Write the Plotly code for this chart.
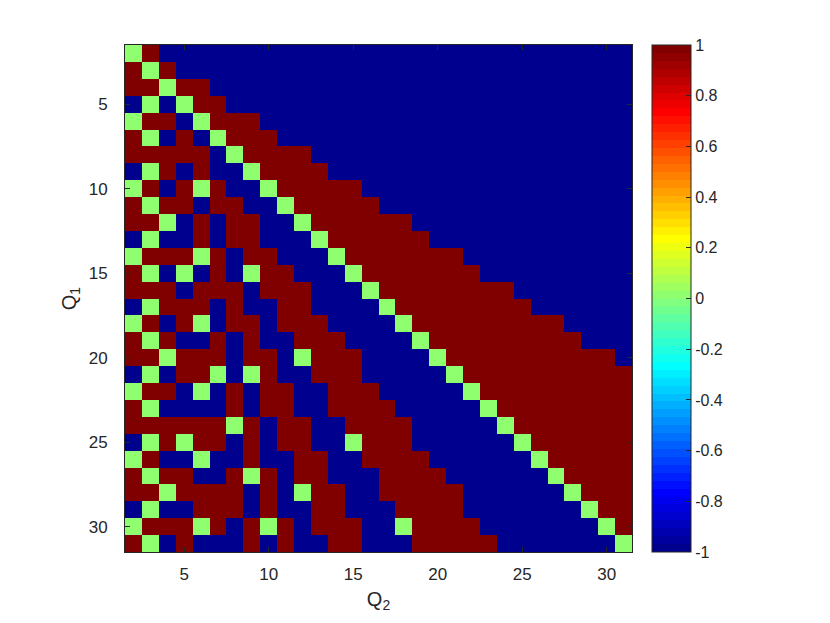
import plotly.graph_objects as go

# =============================================================================
# DATA  (rows Q1 = 2..31, columns Q2 = 2..31; "+" = 1, "-" = -1, "0" = 0)
# =============================================================================

Q1 = list(range(2, 32))
Q2 = list(range(2, 32))

ROWS = [
    "0+--- ----- ----- ----- ----- -----",  # 2
    "+0+-- ----- ----- ----- ----- -----",  # 3
    "++0++ ----- ----- ----- ----- -----",  # 4
    "-0-0+ +---- ----- ----- ----- -----",  # 5
    "0++-0 +++-- ----- ----- ----- -----",  # 6
    "+0-+- 0+++- ----- ----- ----- -----",  # 7
    "+++++ -0+++ +---- ----- ----- -----",  # 8
    "-0+-+ --0++ ++--- ----- ----- -----",  # 9
    "0+-+0 +--0+ ++++- ----- ----- -----",  # 10
    "+0++- ++--0 +++++ ----- ----- -----",  # 11
    "++0-+ -++-- 0++++ ++--- ----- -----",  # 12
    "-0--+ -++-- -0+++ +++-- ----- -----",  # 13
    "0+++0 +-++- --0++ +++++ ----- -----",  # 14
    "+0-0- +-0++ ---0+ +++++ +---- -----",  # 15
    "+++-+ ++-++ +---0 +++++ +++-- -----",  # 16
    "-0+++ -+--+ +---- 0++++ ++++- -----",  # 17
    "0+-+0 -++-+ ++--- -0+++ +++++ +----",  # 18
    "+0+-- +-+-- +++-- --0++ +++++ ++---",  # 19
    "++0++ +-++- 0+++- ---0+ +++++ ++++-",  # 20
    "-0-++ 0-0+- -+++- ----0 +++++ +++++",  # 21
    "0++-0 -+-++ --+++ ----- 0++++ +++++",  # 22
    "+0--- -+-++ --+++ +---- -0+++ +++++",  # 23
    "+++++ +0+-+ +--++ ++--- --0++ +++++",  # 24
    "-0+0+ +-+-+ +--0+ ++--- ---0+ +++++",  # 25
    "0+--0 --+-- ++--+ +++-- ----0 +++++",  # 26
    "+0++- -+0+- ++--- ++++- ----- 0++++",  # 27
    "++0++ ++-+- 0++-- +++++ ----- -0+++",  # 28
    "-0--+ ++-+- -++-- -++++ ----- --0++",  # 29
    "0+++0 +-+0+ -+++- -0+++ +---- ---0+",  # 30
    "+0-+- --+-+ --++- --+++ ++--- ----0",  # 31
]

CBAR_TICKS = [-1, -0.8, -0.6, -0.4, -0.2, 0, 0.2, 0.4, 0.6, 0.8, 1]
CBAR_LABELS = ["-1", "-0.8", "-0.6", "-0.4", "-0.2", "0", "0.2", "0.4", "0.6", "0.8", "1"]
AXIS_TICKS = [5, 10, 15, 20, 25, 30]

SYMBOL = {"+": 1, "-": -1, "0": 0}
z = []
for r in ROWS:
    s = r.replace(" ", "")
    assert len(s) == 30
    z.append([SYMBOL[c] for c in s])


# =============================================================================
# COLORMAP: MATLAB jet(64), discrete
# =============================================================================

def jet(n=64):
    m = -(-n // 4)
    u = [i / m for i in range(1, m + 1)] + [1.0] * (m - 1) + [i / m for i in range(m, 0, -1)]
    g0 = -(-m // 2) - (1 if n % 4 == 1 else 0)
    cols = [[0.0, 0.0, 0.0] for _ in range(n)]
    L = len(u)
    gi = [g0 + k for k in range(1, L + 1)]
    ri = [g + m for g in gi if g + m <= n]
    bi = [g - m for g in gi if g - m >= 1]
    gg = [g for g in gi if g <= n]
    for k, idx in enumerate(ri):
        cols[idx - 1][0] = u[k]
    for k, idx in enumerate(gg):
        cols[idx - 1][1] = u[k]
    for k, idx in enumerate(bi):
        cols[idx - 1][2] = u[L - len(bi) + k]
    return ["rgb(%d,%d,%d)" % tuple(round(v * 255) for v in c) for c in cols]


JET = jet(64)
colorscale = []
for k, c in enumerate(JET):
    colorscale.append([k / 64, c])
    colorscale.append([1.0 if k == 63 else (k + 1) / 64 - 1e-6, c])


# =============================================================================
# FIGURE
# =============================================================================

TXT = "#262626"
FONT = "Liberation Sans, Arial, Helvetica, sans-serif"

fig = go.Figure()
fig.add_trace(
    go.Heatmap(
        z=z, x=Q2, y=Q1,
        zmin=-1, zmax=1,
        colorscale=colorscale,
        hoverinfo="skip",
        colorbar=dict(
            x=1.039, xanchor="left", xpad=0,
            y=0.5, yanchor="middle", ypad=0,
            len=1, lenmode="fraction",
            thickness=39,
            outlinecolor=TXT, outlinewidth=1,
            tickvals=CBAR_TICKS, ticktext=CBAR_LABELS,
            ticks="inside", ticklen=5, tickcolor=TXT,
            tickfont=dict(family=FONT, size=16, color=TXT),
        ),
    )
)

axis_common = dict(
    tickvals=AXIS_TICKS,
    ticks="inside", ticklen=5, tickcolor=TXT, tickwidth=1,
    showline=True, linecolor=TXT, linewidth=1, mirror="ticks",
    showgrid=False, zeroline=False, automargin=False,
    tickfont=dict(family=FONT, size=17, color=TXT),
)

fig.update_xaxes(
    range=[1.5, 31.5],
    title=dict(text="Q<sub>2</sub>", font=dict(family=FONT, size=20, color=TXT), standoff=8),
    ticklabelstandoff=7,
    **axis_common,
)
fig.update_yaxes(
    range=[31.5, 1.5],
    title=dict(text="Q<sub>1</sub>", font=dict(family=FONT, size=20, color=TXT), standoff=6),
    ticklabelstandoff=13,
    **axis_common,
)

# the page body has an 8 px margin, so the figure is made 16 px smaller
# and the margins pulled in by 8 px to keep the plot where it belongs
fig.update_layout(
    width=814, height=607,
    margin=dict(l=117, r=190, t=37, b=63, pad=0),
    plot_bgcolor="white", paper_bgcolor="white",
    showlegend=False,
)

fig.write_html("out.html")
